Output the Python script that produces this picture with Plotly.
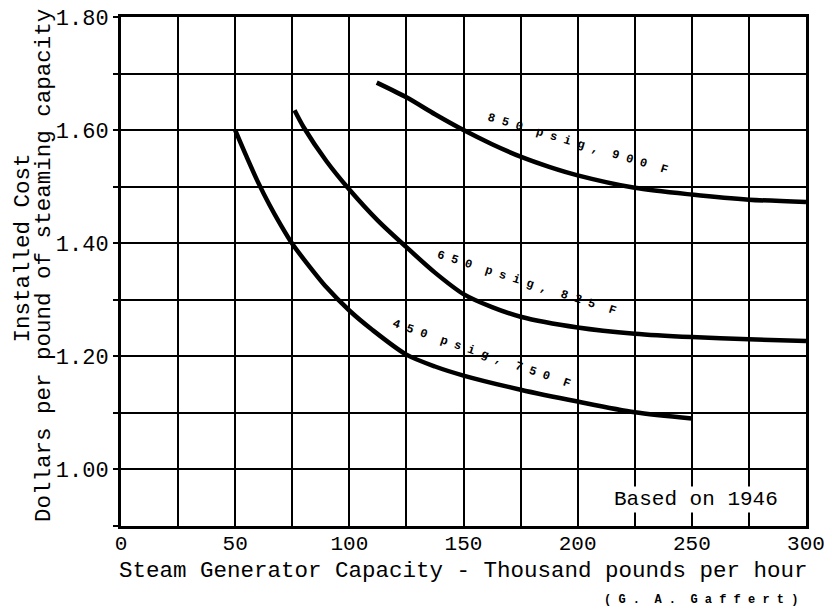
import plotly.graph_objects as go

# Data
x_450 = [50, 55, 60, 65, 70, 75, 80, 90, 100, 110, 125, 137.5, 150, 175, 200, 225, 250]
y_450 = [1.600, 1.553, 1.508, 1.468, 1.432, 1.399, 1.372, 1.322, 1.281, 1.247, 1.203, 1.182, 1.166, 1.141, 1.120, 1.101, 1.090]

x_650 = [76, 80, 90, 100, 112.5, 125, 137.5, 150, 162.5, 175, 200, 225, 250, 275, 300]
y_650 = [1.635, 1.605, 1.545, 1.495, 1.440, 1.393, 1.348, 1.310, 1.287, 1.270, 1.251, 1.240, 1.234, 1.230, 1.227]

x_850 = [112, 125, 137.5, 150, 162.5, 175, 187.5, 200, 225, 250, 275, 300]
y_850 = [1.684, 1.658, 1.628, 1.600, 1.575, 1.553, 1.535, 1.520, 1.498, 1.486, 1.477, 1.473]

x_ticks = [0, 50, 100, 150, 200, 250, 300]
y_ticks = [1.00, 1.20, 1.40, 1.60, 1.80]

curve_labels = ["4 5 0  p s i g ,  7 5 0  F",
                "6 5 0  p s i g ,  8 2 5  F",
                "8 5 0  p s i g ,  9 0 0  F"]
label_x = [158, 177.5, 200]
label_y = [1.205, 1.330, 1.575]
label_angle = [19, 17.7, 16.5]

FONT = "Liberation Mono"

fig = go.Figure()
for xs, ys in [(x_450, y_450), (x_650, y_650), (x_850, y_850)]:
    fig.add_trace(go.Scatter(x=xs, y=ys, mode="lines",
                             line=dict(color="black", width=4.5, shape="spline", smoothing=0.8),
                             showlegend=False, hoverinfo="skip"))

for t, lx, ly, a in zip(curve_labels, label_x, label_y, label_angle):
    fig.add_annotation(x=lx, y=ly, xref="x", yref="y", text="<b>" + t + "</b>",
                       showarrow=False, textangle=a, xanchor="center", yanchor="middle",
                       font=dict(family=FONT, size=12, color="black"))

fig.add_annotation(x=0.839, y=0.053, xref="paper", yref="paper", text="Based on 1946",
                   showarrow=False, bgcolor="white", borderpad=1,
                   xanchor="center", yanchor="middle",
                   font=dict(family=FONT, size=21, color="black"))

fig.add_annotation(x=0.5, y=-0.088, xref="paper", yref="paper",
                   text="Steam Generator Capacity - Thousand pounds per hour",
                   showarrow=False, xanchor="center", yanchor="middle",
                   font=dict(family=FONT, size=22.5, color="black"))

fig.add_annotation(x=-0.1425, y=0.546, xref="paper", yref="paper",
                   text="Installed Cost", textangle=-90, xanchor="center", yanchor="middle",
                   showarrow=False, font=dict(family=FONT, size=22.5, color="black"))
fig.add_annotation(x=-0.1125, y=0.5128, xref="paper", yref="paper",
                   text="Dollars per pound of steaming capacity", textangle=-90,
                   xanchor="center", yanchor="middle",
                   showarrow=False, font=dict(family=FONT, size=22.5, color="black"))

fig.add_annotation(x=0.991, y=-0.145, xref="paper", yref="paper", xanchor="right",
                   yanchor="middle",
                   text="<b>( G .  A .  G a f f e r t )</b>",
                   showarrow=False, font=dict(family=FONT, size=12, color="black"))

fig.update_xaxes(range=[0, 300], tickvals=x_ticks, ticktext=[str(v) for v in x_ticks],
                 showgrid=True, gridcolor="black", gridwidth=2,
                 minor=dict(dtick=25, showgrid=True, gridcolor="black", gridwidth=2),
                 showline=True, linecolor="black", linewidth=3, mirror=True,
                 zeroline=False, ticks="", ticklabelstandoff=-4, automargin=False,
                 ticklabeloverflow="allow",
                 tickfont=dict(family=FONT, size=21, color="black"))
fig.update_yaxes(range=[0.9, 1.8], tickvals=y_ticks, ticktext=["%.2f" % v for v in y_ticks],
                 showgrid=True, gridcolor="black", gridwidth=2,
                 minor=dict(dtick=0.1, showgrid=True, gridcolor="black", gridwidth=2,
                            ticks="outside", ticklen=5, tickcolor="black", tickwidth=2),
                 showline=True, linecolor="black", linewidth=3, mirror=True, automargin=False,
                 zeroline=False, ticks="outside", ticklen=5, tickcolor="black", tickwidth=2,
                 ticklabeloverflow="allow",
                 tickfont=dict(family=FONT, size=22, color="black"))

# page body has an 8px default margin, so the figure is 8px smaller than the window
fig.update_layout(width=824, height=602, paper_bgcolor="white", plot_bgcolor="white",
                  margin=dict(l=113, r=26, t=9, b=84))

fig.write_html("out.html")
